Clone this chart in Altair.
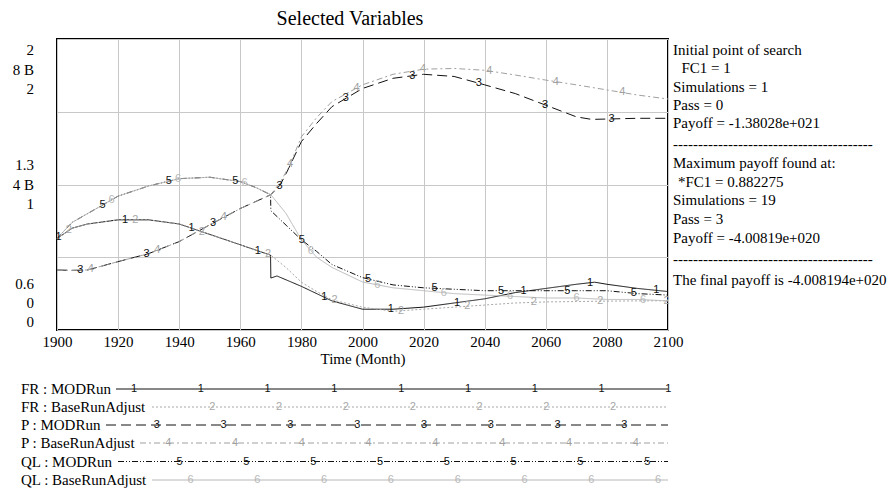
import altair as alt
import numpy as np
import pandas as pd

# ---------------- data ----------------
# FR (scale 0.6 .. 2)
fr_mod_years = [1900, 1905, 1910, 1920, 1930, 1940, 1950, 1960, 1969.9, 1970, 1972, 1980, 1990,
                2000, 2010, 2020, 2030, 2040, 2050, 2060, 2070, 2076, 2080, 2090, 2100]
fr_mod = [1.04, 1.09, 1.11, 1.13, 1.13, 1.11, 1.06, 1.01, 0.96, 0.85, 0.86, 0.81, 0.74,
          0.70, 0.70, 0.71, 0.73, 0.75, 0.78, 0.80, 0.82, 0.83, 0.82, 0.80, 0.785]
fr_base_years = [1900, 1905, 1910, 1920, 1930, 1940, 1950, 1960, 1970, 1975, 1980, 1985, 1990,
                 2000, 2010, 2020, 2030, 2040, 2050, 2060, 2070, 2080, 2090, 2100]
fr_base = [1.04, 1.09, 1.11, 1.13, 1.13, 1.11, 1.06, 1.01, 0.96, 0.90, 0.83, 0.785, 0.745,
           0.71, 0.69, 0.70, 0.71, 0.72, 0.73, 0.735, 0.737, 0.739, 0.74, 0.741]
# P (billions, scale 0 .. 8 B)
p_mod_years = [1900, 1905, 1910, 1920, 1930, 1940, 1950, 1960, 1965, 1970, 1973, 1975, 1980, 1985,
               1990, 2000, 2010, 2020, 2030, 2040, 2050, 2060, 2070, 2075, 2080, 2090, 2100]
p_mod = [1.65, 1.64, 1.65, 1.88, 2.10, 2.43, 2.89, 3.34, 3.53, 3.72, 3.98, 4.30, 5.18, 5.68,
         6.14, 6.64, 6.92, 7.03, 6.97, 6.74, 6.50, 6.18, 5.86, 5.79, 5.80, 5.82, 5.82]
p_base_years = [1900, 1905, 1910, 1920, 1930, 1940, 1950, 1960, 1965, 1970, 1973, 1976, 1980, 1985,
                1990, 2000, 2010, 2020, 2030, 2040, 2050, 2060, 2070, 2080, 2090, 2100]
p_base = [1.65, 1.64, 1.65, 1.88, 2.10, 2.43, 2.89, 3.34, 3.53, 3.72, 4.05, 4.50, 5.31, 5.84,
          6.28, 6.74, 7.03, 7.17, 7.19, 7.14, 7.01, 6.87, 6.74, 6.60, 6.46, 6.35]
# QL (scale 0 .. 2)
ql_mod_years = [1900, 1905, 1910, 1920, 1930, 1940, 1950, 1960, 1965, 1969.9, 1970, 1975, 1980, 1985,
                1990, 2000, 2010, 2020, 2030, 2040, 2050, 2060, 2070, 2080, 2090, 2100]
ql_mod = [0.63, 0.74, 0.80, 0.92, 0.99, 1.04, 1.05, 1.02, 0.98, 0.93, 0.82, 0.72, 0.62, 0.54,
          0.45, 0.36, 0.31, 0.29, 0.28, 0.27, 0.27, 0.27, 0.27, 0.27, 0.25, 0.24]
ql_base_years = [1900, 1905, 1910, 1920, 1930, 1940, 1950, 1960, 1965, 1970, 1975, 1980, 1985,
                 1990, 2000, 2010, 2020, 2030, 2040, 2050, 2060, 2070, 2080, 2090, 2100]
ql_base = [0.63, 0.74, 0.80, 0.92, 0.99, 1.04, 1.05, 1.02, 0.98, 0.93, 0.80, 0.62, 0.50,
           0.43, 0.33, 0.29, 0.27, 0.25, 0.24, 0.23, 0.22, 0.22, 0.21, 0.21, 0.20]

series_names = ["FR : MODRun", "FR : BaseRunAdjust", "P : MODRun", "P : BaseRunAdjust",
                "QL : MODRun", "QL : BaseRunAdjust"]
series_var = ["FR", "FR", "P", "P", "QL", "QL"]
series_digit = ["1", "2", "3", "4", "5", "6"]
series_x = [fr_mod_years, fr_base_years, p_mod_years, p_base_years, ql_mod_years, ql_base_years]
series_y = [fr_mod, fr_base, p_mod, p_base, ql_mod, ql_base]

# left-axis scale labels (top / middle / bottom, one line per variable)
scale_labels_top = ["2", "8 B", "2"]
scale_labels_mid = ["1.3", "4 B", "1"]
scale_labels_bot = ["0.6", "0", "0"]

# text panel on the right
panel_lines = ["Initial point of search", "FC1 = 1", "Simulations = 1", "Pass = 0",
               "Payoff = -1.38028e+021", "-" * 40, "Maximum payoff found at:",
               "*FC1 = 0.882275", "Simulations = 19", "Pass = 3", "Payoff = -4.00819e+020",
               "-" * 40, "The final payoff is -4.008194e+020"]

# ---------------- styling / layout ----------------
FONT = "Liberation Serif, Times New Roman, Times, serif"
DFONT = "Liberation Sans, Arial, sans-serif"
BLACK = "#111111"
colors = [BLACK, "#a8a8a8", BLACK, "#a0a0a0", BLACK, "#b8b8b8"]
dashes = [[1, 0], [2, 2], [10, 5], [6, 3, 2, 3], [6, 2, 1, 2, 1, 2], [1, 0]]
W, H = 611, 291
LEFT, TOP = 57, 39

norm_expr = ("datum.var == 'FR' ? (datum.value - 0.6) / 1.4 : "
             "(datum.var == 'P' ? datum.value / 8 : datum.value / 2)")

rows = []
for name, var, xs, ys in zip(series_names, series_var, series_x, series_y):
    for x, y in zip(xs, ys):
        rows.append({"series": name, "var": var, "year": x, "value": y})
df = pd.DataFrame(rows)

# digit markers placed along each line
marker_start = [1900.55, 1903.9, 1907.6, 1911.1, 1914.9, 1917.9]
marker_step = 21.74
mrows = []
for k, name in enumerate(series_names):
    yr = marker_start[k]
    while yr <= 2100.3:
        v = float(np.interp(yr, series_x[k], series_y[k]))
        mrows.append({"series": name, "var": series_var[k], "year": yr, "value": v,
                      "digit": series_digit[k]})
        yr += marker_step
mdf = pd.DataFrame(mrows)

color_scale = alt.Scale(domain=series_names, range=colors)
dash_scale = alt.Scale(domain=series_names, range=dashes)

xscale = alt.Scale(domain=[1900, 2100], nice=False, zero=False)
yscale = alt.Scale(domain=[0, 1], nice=False, zero=False)

lines = alt.Chart(df).transform_calculate(n=norm_expr).mark_line(strokeWidth=1).encode(
    x=alt.X("year:Q", scale=xscale,
            axis=alt.Axis(values=list(range(1900, 2101, 10)),
                          labelExpr="datum.value % 20 == 0 ? datum.label : ''",
                          format="d", title="Time (Month)", grid=True, ticks=False,
                          tickSize=0, domain=False, labelPadding=4, titlePadding=2,
                          labelFlush=False, labelOverlap=False, labelBound=False,
                          labelFont=FONT, labelFontSize=15, titleFont=FONT,
                          titleFontSize=15, titleFontWeight="normal", labelColor="black",
                          titleColor="black")),
    y=alt.Y("n:Q", scale=yscale,
            axis=alt.Axis(values=[0, 0.25, 0.5, 0.75, 1], labels=False, ticks=False,
                          domain=False, title=None, grid=True)),
    color=alt.Color("series:N", scale=color_scale, legend=None),
    strokeDash=alt.StrokeDash("series:N", scale=dash_scale, legend=None),
    detail="series:N",
)

markers = alt.Chart(mdf).transform_calculate(n=norm_expr).mark_text(
    font=DFONT, fontSize=11, baseline="middle", align="center").encode(
    x=alt.X("year:Q", scale=xscale),
    y=alt.Y("n:Q", scale=yscale),
    text="digit:N",
    color=alt.Color("series:N", scale=color_scale, legend=None),
)

# ---- decorations in pixel space (relative to plot origin) ----
title = alt.Chart(pd.DataFrame({"px": [350 - LEFT], "py": [25 - TOP],
                                "t": ["Selected Variables"]})).mark_text(
    font=FONT, fontSize=20, align="center", baseline="alphabetic", color="black").encode(
    x=alt.X("px:Q", scale=None), y=alt.Y("py:Q", scale=None), text="t:N")

lab_rows = []
for ys, labs in [([50, 69.5, 89], scale_labels_top), ([165, 185, 204], scale_labels_mid),
                 ([284, 303, 322], scale_labels_bot)]:
    for yv, lab in zip(ys, labs):
        lab_rows.append({"px": 34 - LEFT, "py": yv - TOP, "t": lab})
left_labels = alt.Chart(pd.DataFrame(lab_rows)).mark_text(
    font=FONT, fontSize=15, align="right", baseline="middle", color="black").encode(
    x=alt.X("px:Q", scale=None), y=alt.Y("py:Q", scale=None), text="t:N")

panel_y = [50, 68.3, 86.7, 105, 123.3, 143.5, 163.3, 181.7, 200, 218.5, 238.3, 258.5, 280]
panel_x = [673, 681.5, 673, 673, 673, 673, 673, 678, 673, 673, 673, 673, 673]
panel = alt.Chart(pd.DataFrame({"px": [x - LEFT for x in panel_x],
                                "py": [y - TOP for y in panel_y],
                                "t": panel_lines})).mark_text(
    font=FONT, fontSize=15, align="left", baseline="middle", color="black").encode(
    x=alt.X("px:Q", scale=None), y=alt.Y("py:Q", scale=None), text="t:N")

# legend
leg_y = [389, 407, 425, 443, 461.5, 480]
leg_start = [116, 152, 106, 140, 118, 152]
leg_end = 668
leg_mark_start = [134, 145.5, 156.8, 168.2, 179.6, 190.5]
leg_mark_step = 66.8
leg_rows, leg_mrows = [], []
for k, name in enumerate(series_names):
    leg_rows.append({"series": name, "lx": 21 - LEFT, "x1": leg_start[k] - LEFT,
                     "x2": leg_end - LEFT, "py": leg_y[k] - TOP})
    xm = leg_mark_start[k]
    while xm <= leg_end + 1:
        if xm >= leg_start[k] + 3:
            leg_mrows.append({"series": name, "px": xm - LEFT, "py": leg_y[k] - TOP,
                              "digit": series_digit[k]})
        xm += leg_mark_step
ldf = pd.DataFrame(leg_rows)
lmdf = pd.DataFrame(leg_mrows)

leg_labels = alt.Chart(ldf).mark_text(
    font=FONT, fontSize=15, align="left", baseline="middle", color="black").encode(
    x=alt.X("lx:Q", scale=None), y=alt.Y("py:Q", scale=None), text="series:N")
leg_lines = alt.Chart(ldf).mark_rule(strokeWidth=1).encode(
    x=alt.X("x1:Q", scale=None), x2="x2:Q", y=alt.Y("py:Q", scale=None),
    color=alt.Color("series:N", scale=color_scale, legend=None),
    strokeDash=alt.StrokeDash("series:N", scale=dash_scale, legend=None))
leg_marks = alt.Chart(lmdf).mark_text(
    font=DFONT, fontSize=11, align="center", baseline="middle").encode(
    x=alt.X("px:Q", scale=None), y=alt.Y("py:Q", scale=None), text="digit:N",
    color=alt.Color("series:N", scale=color_scale, legend=None))

chart = alt.layer(lines, markers, title, left_labels, panel, leg_lines, leg_labels,
                  leg_marks).properties(
    width=W, height=H,
    padding={"left": LEFT, "top": TOP, "right": 894 - LEFT - W, "bottom": 495 - TOP - H},
    autosize=alt.AutoSizeParams(type="none"),
    background="white",
).configure_view(stroke="black", strokeWidth=2).configure_axis(
    gridColor="#c8c8c8", gridWidth=1, gridOpacity=1)

chart.save("out.html", embed_options={"renderer": "svg", "actions": False})
